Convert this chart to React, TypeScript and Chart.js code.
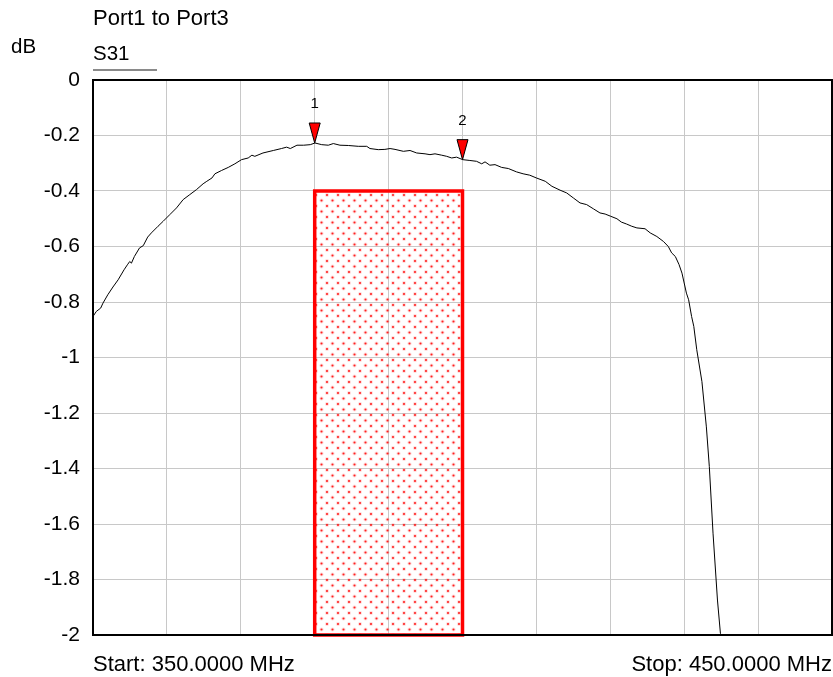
import React, { useEffect, useRef } from "react";
import { Chart, registerables } from "chart.js";

Chart.register(...registerables);

// ---- Data ----
const FREQ_MHZ = [
  350.0, 350.45, 351.04, 351.35, 352.0, 352.7, 353.4, 354.2, 354.65, 354.97,
  355.2, 355.6, 356.3, 356.8, 357.4, 357.9, 358.8, 359.5, 360.4, 361.3,
  362.2, 363.1, 364.0, 364.9, 365.4, 366.1, 366.5, 367.4, 368.3, 369.2,
  370.1, 371.0, 371.5, 371.9, 373.0, 374.4, 375.5, 376.2, 376.7, 377.6,
  378.5, 379.4, 380.04, 380.95, 381.84, 382.52, 383.42, 384.55, 385.9, 387.04,
  387.48, 388.6, 389.5, 390.2, 390.87, 392.0, 392.9, 393.8, 394.93, 395.6,
  396.28, 397.19, 397.86, 398.54, 399.2, 400.03, 401.0, 401.9, 402.6, 403.05,
  403.7, 404.4, 405.3, 406.2, 407.3, 408.2, 409.1, 410.0, 411.2, 412.1,
  413.2, 414.1, 415.0, 415.9, 416.8, 417.7, 418.6, 419.3, 420.05, 420.9,
  421.5, 422.2, 422.9, 423.6, 424.7, 425.4, 426.3, 427.2, 427.85, 428.3,
  428.8, 429.3, 429.7, 430.3, 430.6, 431.0, 431.3, 431.7, 432.4, 433.0,
  433.4, 433.9, 434.5, 434.9, 435.0, 440.0, 445.0, 450.0,
];

const S31_DB = [
  -0.852, -0.834, -0.822, -0.804, -0.774, -0.746, -0.72, -0.684, -0.666, -0.654,
  -0.66, -0.636, -0.605, -0.597, -0.566, -0.551, -0.527, -0.509, -0.485, -0.461,
  -0.431, -0.413, -0.395, -0.374, -0.365, -0.353, -0.338, -0.326, -0.315, -0.302,
  -0.287, -0.281, -0.271, -0.275, -0.263, -0.254, -0.247, -0.242, -0.247, -0.235,
  -0.235, -0.233, -0.227, -0.233, -0.235, -0.229, -0.235, -0.236, -0.239, -0.239,
  -0.247, -0.251, -0.25, -0.247, -0.25, -0.257, -0.254, -0.263, -0.266, -0.269,
  -0.266, -0.271, -0.275, -0.281, -0.278, -0.287, -0.29, -0.293, -0.302, -0.295,
  -0.307, -0.305, -0.315, -0.319, -0.331, -0.338, -0.343, -0.353, -0.365, -0.383,
  -0.397, -0.407, -0.425, -0.443, -0.449, -0.464, -0.479, -0.483, -0.491, -0.5,
  -0.512, -0.519, -0.527, -0.533, -0.536, -0.551, -0.564, -0.582, -0.6, -0.623,
  -0.636, -0.665, -0.696, -0.768, -0.792, -0.852, -0.888, -0.972, -1.087, -1.25,
  -1.393, -1.633, -1.874, -1.994, -2.0, -2.0, -2.0, -2.0,
];

const MARKER_LABELS = ["1", "2"];
const MARKER_FREQ = [380, 400];
const MARKER_DB = [-0.227, -0.287];

const BAND_FREQ = [380, 400];
const BAND_DB = [-0.4, -2];

const X_RANGE = [350, 450];
const X_STEP = 10;
const Y_RANGE = [-2, 0];
const Y_STEP = 0.2;

const TITLE = "Port1 to Port3";
const Y_UNIT = "dB";
const TRACE_NAME = "S31";
const START_LABEL = "Start: 350.0000 MHz";
const STOP_LABEL = "Stop: 450.0000 MHz";

const FONT = '"Liberation Sans", Arial, Helvetica, sans-serif';

function makeDotPattern(ctx: CanvasRenderingContext2D) {
  const tile = document.createElement("canvas");
  tile.width = 11;
  tile.height = 11;
  const t = tile.getContext("2d")!;
  const dots = [
    [2.5, 2.5],
    [8, 8],
  ];
  for (const [dx, dy] of dots) {
    t.fillStyle = "rgba(255,0,0,0.15)";
    t.beginPath();
    t.arc(dx, dy, 2.1, 0, Math.PI * 2);
    t.fill();
    t.fillStyle = "rgba(255,0,0,0.85)";
    t.beginPath();
    t.arc(dx, dy, 1.05, 0, Math.PI * 2);
    t.fill();
  }
  return ctx.createPattern(tile, "repeat");
}

const vnaPlugin = {
  id: "vnaDecor",
  beforeDatasetsDraw(chart: any) {
    const { ctx, scales } = chart;
    const x = scales.x;
    const y = scales.y;
    const x0 = x.getPixelForValue(BAND_FREQ[0]);
    const x1 = x.getPixelForValue(BAND_FREQ[1]);
    const y0 = y.getPixelForValue(BAND_DB[0]);
    const y1 = y.getPixelForValue(BAND_DB[1]);
    ctx.save();
    const pat = makeDotPattern(ctx);
    if (pat) {
      ctx.fillStyle = pat;
      ctx.fillRect(x0, y0, x1 - x0, y1 - y0);
    }
    ctx.strokeStyle = "#ff0000";
    ctx.lineWidth = 3.5;
    ctx.strokeRect(x0, y0, x1 - x0, y1 - y0);
    ctx.restore();
  },
  afterDatasetsDraw(chart: any) {
    const { ctx, chartArea } = chart;
    ctx.save();
    ctx.strokeStyle = "#000";
    ctx.lineWidth = 2;
    ctx.strokeRect(
      chartArea.left,
      chartArea.top,
      chartArea.right - chartArea.left,
      chartArea.bottom - chartArea.top
    );
    ctx.restore();
  },
  afterDraw(chart: any) {
    const { ctx, scales } = chart;
    ctx.save();
    for (let i = 0; i < MARKER_FREQ.length; i++) {
      const px = scales.x.getPixelForValue(MARKER_FREQ[i]);
      const py = scales.y.getPixelForValue(MARKER_DB[i]);
      ctx.beginPath();
      ctx.moveTo(px - 5.5, py - 20);
      ctx.lineTo(px + 5.5, py - 20);
      ctx.lineTo(px, py);
      ctx.closePath();
      ctx.fillStyle = "#ff0000";
      ctx.fill();
      ctx.strokeStyle = "#000";
      ctx.lineWidth = 1;
      ctx.stroke();
      ctx.fillStyle = "#000";
      ctx.font = `15px ${FONT}`;
      ctx.textAlign = "center";
      ctx.textBaseline = "middle";
      ctx.fillText(MARKER_LABELS[i], px, py - 39);
    }
    ctx.restore();
  },
};

export default function App() {
  const canvasRef = useRef<HTMLCanvasElement | null>(null);

  useEffect(() => {
    if (!canvasRef.current) return;
    const points = FREQ_MHZ.map((f, i) => ({ x: f, y: S31_DB[i] }));
    const chart = new Chart(canvasRef.current, {
      type: "line",
      data: {
        datasets: [
          {
            label: TRACE_NAME,
            data: points,
            borderColor: "#000",
            borderWidth: 1,
            pointRadius: 0,
            tension: 0,
            fill: false,
          },
        ],
      },
      options: {
        animation: false,
        responsive: false,
        maintainAspectRatio: false,
        layout: { padding: { top: 80, right: 1, bottom: 0, left: 0 } },
        plugins: {
          legend: { display: false },
          tooltip: { enabled: false },
          title: { display: false },
        },
        scales: {
          x: {
            type: "linear",
            min: X_RANGE[0],
            max: X_RANGE[1],
            ticks: { stepSize: X_STEP, display: false },
            grid: { color: "#c8c8c8", lineWidth: 1, drawTicks: false },
            border: { display: false },
            afterFit(scale: any) {
              scale.height = 42;
            },
          },
          y: {
            type: "linear",
            min: Y_RANGE[0],
            max: Y_RANGE[1],
            ticks: {
              stepSize: Y_STEP,
              color: "#000",
              padding: 13,
              font: { family: FONT, size: 21 },
              callback: (v: any) => String(Math.round(Number(v) * 10) / 10),
            },
            grid: { color: "#c8c8c8", lineWidth: 1, drawTicks: false },
            border: { display: false },
            afterFit(scale: any) {
              scale.width = 93;
            },
          },
        },
      },
      plugins: [vnaPlugin],
    });
    return () => chart.destroy();
  }, []);

  const txt: React.CSSProperties = {
    position: "absolute",
    fontFamily: FONT,
    fontSize: 20,
    lineHeight: "20px",
    color: "#000",
    whiteSpace: "nowrap",
  };

  return (
    <div
      style={{
        position: "absolute",
        left: 0,
        top: 0,
        width: 833,
        height: 677,
        background: "#fff",
        overflow: "hidden",
      }}
    >
      <canvas
        ref={canvasRef}
        width={833}
        height={677}
        style={{ position: "absolute", left: 0, top: 0, width: 833, height: 677 }}
      />
      <div style={{ ...txt, left: 93, top: 7, fontSize: 22, lineHeight: "22px" }}>{TITLE}</div>
      <div style={{ ...txt, left: 11, top: 36, fontSize: 20.5 }}>{Y_UNIT}</div>
      <div style={{ ...txt, left: 93, top: 43, fontSize: 20.5 }}>{TRACE_NAME}</div>
      <div
        style={{
          position: "absolute",
          left: 93,
          top: 69,
          width: 64,
          height: 2,
          background: "#8a8a8a",
        }}
      />
      <div style={{ ...txt, left: 93, top: 653, fontSize: 22, lineHeight: "22px" }}>{START_LABEL}</div>
      <div style={{ ...txt, right: 1, top: 653, fontSize: 22, lineHeight: "22px", textAlign: "right" }}>
        {STOP_LABEL}
      </div>
    </div>
  );
}
